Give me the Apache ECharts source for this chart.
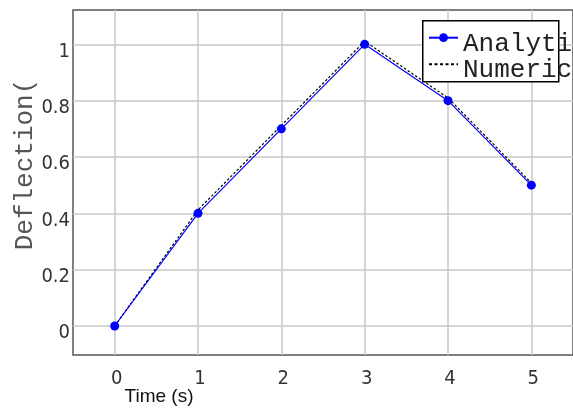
<!DOCTYPE html>
<html>
<head>
<meta charset="utf-8">
<script src="https://cdn.jsdelivr.net/npm/echarts@6/dist/echarts.min.js"></script>
<style>
html,body{margin:0;padding:0;background:#fff;}
#chart{width:573px;height:409px;}
</style>
</head>
<body>
<div id="chart"></div>
<script>
var timeValues = [0, 1, 2, 3, 4, 5];
var analyticalValues = [0, 0.4, 0.7, 1.0, 0.8, 0.5];
var numericalValues = [0, 0.412, 0.712, 1.011, 0.81, 0.508];
var yTickValues = [0, 0.2, 0.4, 0.6, 0.8, 1];
var xTickValues = [0, 1, 2, 3, 4, 5];
var seriesNames = ['Analytical', 'Numerical'];
var xAxisTitle = 'Time (s)';
var yAxisTitle = 'Deflection(';

function pairs(xs, ys) { return xs.map(function (x, i) { return [x, ys[i]]; }); }

var chart = echarts.init(document.getElementById('chart'), null, {renderer: 'canvas'});
var tickFont = '"DejaVu Sans Condensed", "Liberation Sans", sans-serif';
chart.setOption({
  animation: false,
  backgroundColor: '#fff',
  grid: {left: 73, top: 10, right: 0, bottom: 54, show: true, borderColor: '#555', borderWidth: 1.5, backgroundColor: 'transparent', containLabel: false, outerBoundsMode: 'none'},
  graphic: [{
    type: 'rect', left: 422, top: 20, z: 50,
    shape: {width: 136, height: 61},
    style: {fill: '#fff', stroke: '#000', lineWidth: 1.5}
  }],
  legend: {
    orient: 'vertical', left: 428, top: 18.7, padding: 0, z: 60,
    itemWidth: 29, itemHeight: 11, itemGap: -11.4,
    data: [
      {name: seriesNames[0]},
      {name: seriesNames[1], itemStyle: {color: 'rgba(0,0,0,0)', borderColor: 'rgba(0,0,0,0)', borderWidth: 0}, lineStyle: {type: [3, 2.5]}}
    ],
    formatter: '{a|{name}}',
    textStyle: {
      fontFamily: '"Liberation Mono", monospace', fontSize: 26, color: '#222', lineHeight: 14,
      rich: {a: {fontFamily: '"Liberation Mono", monospace', fontSize: 26, color: '#222', lineHeight: 14, padding: [12, 0, 0, 0]}}
    }
  },
  xAxis: {
    type: 'value', min: -0.5, max: 5.5,
    name: xAxisTitle, nameLocation: 'middle', nameGap: 32, nameMoveOverlap: false,
    nameTextStyle: {fontFamily: '"Liberation Sans", Arial, sans-serif', fontSize: 19, color: '#111', padding: [0, 328, 0, 0]},
    axisLine: {show: false},
    axisTick: {show: false, customValues: xTickValues},
    axisLabel: {customValues: xTickValues, fontFamily: tickFont, fontSize: 20, color: '#333', margin: 14, padding: [0, 0, 0, 4]},
    splitLine: {show: true, lineStyle: {color: '#c8c8c8', width: 1.5}}
  },
  yAxis: {
    type: 'value', min: -0.103, max: 1.122,
    name: yAxisTitle, nameLocation: 'middle', nameGap: 35, nameRotate: 90, nameMoveOverlap: false,
    nameTextStyle: {fontFamily: '"Liberation Mono", monospace', fontSize: 26, color: '#555', padding: [0, 0, 0, 36]},
    axisLine: {show: false},
    axisTick: {show: false, customValues: yTickValues},
    axisLabel: {customValues: yTickValues, fontFamily: tickFont, fontSize: 20, color: '#333', margin: 3, verticalAlign: 'top', lineHeight: 14},
    splitLine: {show: true, lineStyle: {color: '#c8c8c8', width: 1.5}}
  },
  series: [
    {
      name: seriesNames[0], type: 'line', data: pairs(timeValues, analyticalValues), z: 4,
      symbol: 'circle', symbolSize: 9, showSymbol: true,
      lineStyle: {color: '#0000ff', width: 1.2},
      itemStyle: {color: '#0000ff'}
    },
    {
      name: seriesNames[1], type: 'line', data: pairs(timeValues, numericalValues), z: 3,
      symbol: 'none',
      lineStyle: {color: '#000', width: 1.2, type: [2.5, 2]},
      itemStyle: {color: '#000'}
    }
  ]
});
</script>
</body>
</html>
